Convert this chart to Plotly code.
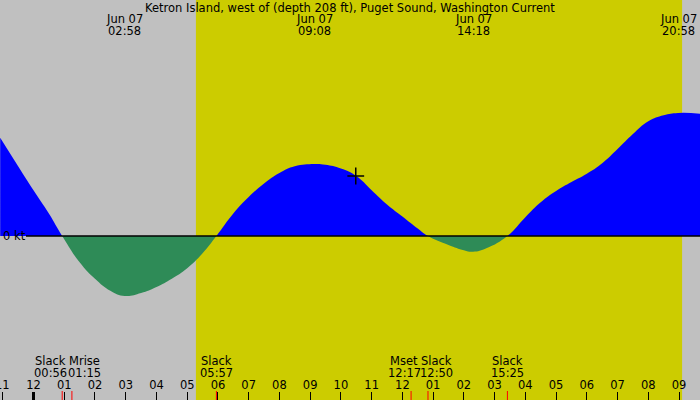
import plotly.graph_objects as go

# ---- data ----
day = "2024-06-07"
prev = "2024-06-06"
times = [prev + " 22:55", prev + " 23:30", day + " 00:00", day + " 00:30", day + " 00:56",
         day + " 01:30", day + " 02:00", day + " 02:30", day + " 02:58", day + " 03:30",
         day + " 04:00", day + " 04:30", day + " 05:00", day + " 05:30", day + " 05:57",
         day + " 06:30", day + " 07:00", day + " 07:30", day + " 08:00", day + " 08:30",
         day + " 09:08", day + " 09:30", day + " 10:00", day + " 10:30", day + " 11:00",
         day + " 11:30", day + " 12:00", day + " 12:30", day + " 12:50", day + " 13:30",
         day + " 14:00", day + " 14:18", day + " 14:45", day + " 15:25", day + " 16:00",
         day + " 16:30", day + " 17:00", day + " 17:30", day + " 18:00", day + " 18:30",
         day + " 19:00", day + " 19:30", day + " 20:00", day + " 20:30", day + " 20:58",
         day + " 21:41"]
speeds = [1.31, 0.93, 0.61, 0.30, 0,
          -0.35, -0.57, -0.73, -0.80, -0.76,
          -0.68, -0.57, -0.43, -0.23, 0,
          0.30, 0.52, 0.70, 0.84, 0.93,
          0.96, 0.95, 0.90, 0.80, 0.61,
          0.42, 0.26, 0.10, 0, -0.12,
          -0.19, -0.21, -0.16, 0, 0.25,
          0.45, 0.60, 0.72, 0.83, 0.97,
          1.16, 1.36, 1.53, 1.61, 1.64,
          1.63]

peak_times = ["02:58", "09:08", "14:18", "20:58"]
event_times = ["00:56", "01:15", "05:57", "12:17", "12:50", "15:25"]
event_names = ["Slack", "Mrise", "Slack", "Mset", "Slack", "Slack"]
sunrise = "05:17"
sunset = "21:06"
now_time = "10:29"
now_speed = 0.80
title = "Ketron Island, west of (depth 208 ft), Puget Sound, Washington Current"
first_tick_label = "11"
first_tick_time = prev + " 23:00"

# label nudges (px) so neighbouring event labels do not overlap
event_label_shift = [-12, 13, 0, -7, 9, 0]

x_start = prev + " 22:54:37"
x_end = day + " 21:40:55"
y_min, y_max = -2.187, 3.147

GREY = "#c0c0c0"
YELLOW = "#cccc00"
BLUE = "#0000ff"
GREEN = "#2e8b57"
FONT = "DejaVu Sans"
TXT = dict(family=FONT, size=11.5, color="black")

split = -y_min / (y_max - y_min)   # paper position of 0 kt

fig = go.Figure()
# flood (above zero) drawn in the upper axis, ebb in the lower one; each clipped to its half
fig.add_trace(go.Scatter(x=times, y=speeds, mode="lines", yaxis="y",
                         line=dict(width=0, color=BLUE, shape="spline", smoothing=1.3),
                         fill="tozeroy", fillcolor=BLUE, hoverinfo="skip"))
fig.add_trace(go.Scatter(x=times, y=speeds, mode="lines", yaxis="y2",
                         line=dict(width=0, color=GREEN, shape="spline", smoothing=1.3),
                         fill="tozeroy", fillcolor=GREEN, hoverinfo="skip"))
fig.add_trace(go.Scatter(x=[day + " " + now_time], y=[now_speed], mode="markers", yaxis="y",
                         marker=dict(symbol="cross-thin", size=12, line=dict(width=1.5, color="black")),
                         hoverinfo="skip", cliponaxis=False))

shapes = [dict(type="rect", xref="x", yref="paper", x0=day + " " + sunrise, x1=day + " " + sunset,
               y0=0, y1=1, fillcolor=YELLOW, line=dict(width=0), layer="below"),
          dict(type="line", xref="paper", yref="paper", x0=26 / 700, x1=1, y0=split, y1=split,
               line=dict(color="black", width=1.3)),
          dict(type="line", xref="x", yref="paper", x0=day + " 00:00", x1=day + " 00:00",
               y0=0, y1=8 / 400, line=dict(color="black", width=3))]
for et in event_times:
    shapes.append(dict(type="line", xref="x", yref="paper", x0=day + " " + et, x1=day + " " + et,
                       y0=0, y1=9 / 400, line=dict(color="red", width=1)))

annotations = [dict(text=title, xref="paper", yref="paper", x=0.5, y=1, yanchor="middle", yshift=-8,
                    showarrow=False, font=TXT),
               dict(text="0 kt", xref="paper", yref="paper", x=0, y=split, xanchor="left",
                    yanchor="middle", xshift=1, showarrow=False, font=TXT),
               dict(text=first_tick_label, xref="x", yref="paper", x=first_tick_time, y=0,
                    yanchor="middle", yshift=15, showarrow=False, font=TXT)]
for pt in peak_times:
    for line_text, dy in (("Jun 07", -19), (pt, -31)):
        annotations.append(dict(text=line_text, xref="x", yref="paper", x=day + " " + pt, y=1,
                                yanchor="middle", yshift=dy, showarrow=False, font=TXT))
for et, en, sh in zip(event_times, event_names, event_label_shift):
    for line_text, dy in ((en, 39), (et, 27)):
        annotations.append(dict(text=line_text, xref="x", yref="paper", x=day + " " + et, y=0,
                                yanchor="middle", yshift=dy, xshift=sh, showarrow=False, font=TXT))

fig.update_layout(
    width=700, height=400, margin=dict(l=0, r=0, t=0, b=0),
    paper_bgcolor=GREY, plot_bgcolor="rgba(0,0,0,0)", showlegend=False,
    shapes=shapes, annotations=annotations,
    xaxis=dict(type="date", range=[x_start, x_end], dtick=3600000, tick0=day + " 00:00",
               tickformat="%I", ticks="inside", ticklen=8, tickcolor="black", tickwidth=1,
               ticklabelposition="inside", showgrid=False, zeroline=False, showline=False,
               tickfont=TXT, fixedrange=True, anchor="y2"),
    yaxis=dict(range=[0, y_max], domain=[split, 1], visible=False, fixedrange=True),
    yaxis2=dict(range=[y_min, 0], domain=[0, split], visible=False, fixedrange=True),
)

fig.write_html("out.html")
